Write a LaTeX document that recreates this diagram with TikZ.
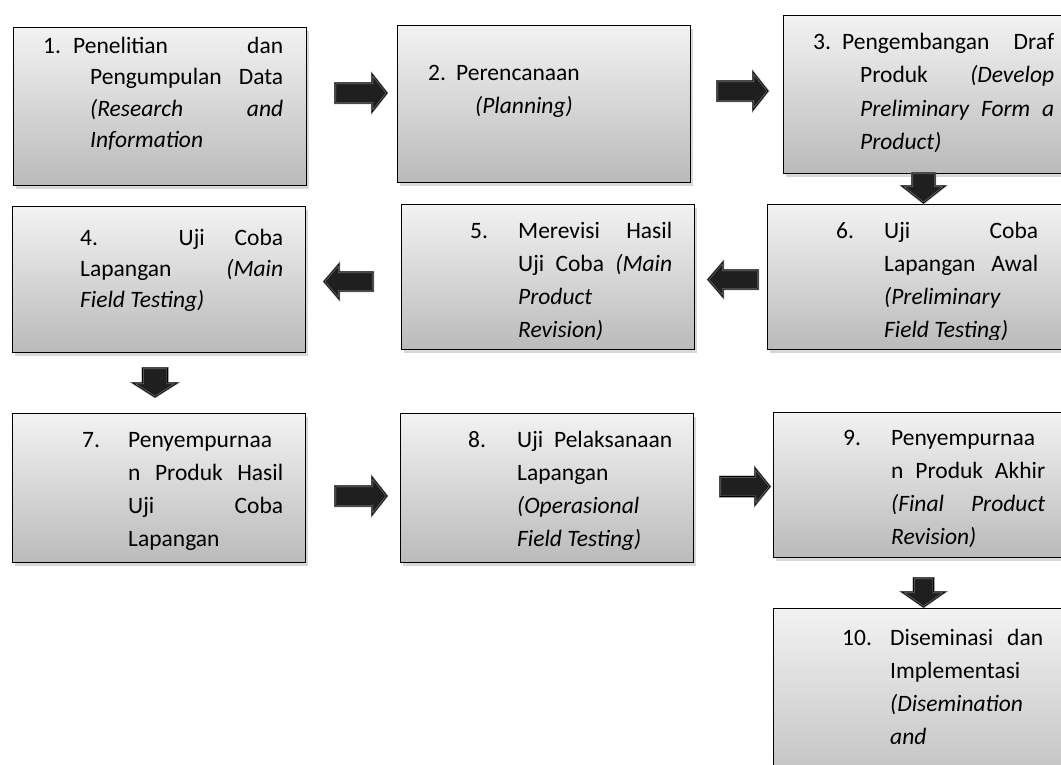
\documentclass[tikz,border=0pt]{standalone}
\usepackage{fontspec}
\setmainfont{Carlito}
\usetikzlibrary{shadows,calc}
\newcommand\nm[2]{\makebox[#1pt][l]{#2}}
\newcommand\jl[2]{\makebox[#1pt][s]{#2}}
\newcommand\ind[1]{\hspace*{#1pt}}
\newcommand\btext[2]{\parbox[t]{260pt}{\baselineskip=#1pt\relax #2}}
\newcommand\barr[7]{\begin{scope}[shift={#2},rotate=#3]
\path[arrowfill, preaction={fill=black!88}, postaction={draw=black, line width=0.6pt}]
  ({-(#4)/2},{-(#6)/2}) -- ({(#4)/2-(#7)},{-(#6)/2}) -- ({(#4)/2-(#7)},{-(#5)/2}) -- ({(#4)/2},0) -- ({(#4)/2-(#7)},{(#5)/2}) -- ({(#4)/2-(#7)},{(#6)/2}) -- ({-(#4)/2},{(#6)/2}) -- cycle;
\coordinate (#1) at (0,0);
\end{scope}}
\begin{document}
\begin{tikzpicture}[x=1pt,y=-1pt,
  box/.style={draw=black, line width=1.4pt, top color=black!5, bottom color=black!27,
    anchor=north west, inner sep=0pt,
    drop shadow={shadow xshift=2.5pt, shadow yshift=-3pt, opacity=0.3}},
  txt/.style={anchor=base west, inner sep=0pt, font=\fontsize{23.5}{32}\selectfont},
  arrowfill/.style={draw=black!55, line width=2pt, line join=miter}]
\useasboundingbox (0,0) rectangle (1061,764);
\clip (0,0) rectangle (1061,764);
\fill[white] (0,0) rectangle (1061,764);

% boxes
\node[box, minimum width=293, minimum height=158] (b1) at (13,27) {};
\node[box, minimum width=293, minimum height=157] (b2) at (397,25) {};
\node[box, minimum width=300, minimum height=158] (b3) at (783,15) {};
\node[box, minimum width=293, minimum height=146] (b4) at (12,206) {};
\node[box, minimum width=293, minimum height=145] (b5) at (401,204) {};
\node[box, minimum width=300, minimum height=145] (b6) at (767,204) {};
\node[box, minimum width=293, minimum height=149] (b7) at (12,413) {};
\node[box, minimum width=293, minimum height=149] (b8) at (400,413) {};
\node[box, minimum width=300, minimum height=145] (b9) at (773,412) {};
\node[box, minimum width=300, minimum height=200] (b10) at (773,608) {};

% arrows
\barr{a12}{(361,93)}{0}{52}{38}{20}{15}
\barr{a23}{(742.5,91)}{0}{51}{38}{20}{15}
\barr{a36}{(923.5,188)}{-90}{30}{43}{23}{17}
\barr{a65}{(733,279.5)}{180}{50}{35}{19}{15}
\barr{a54}{(348.5,281.5)}{180}{49}{35}{19}{15}
\barr{a47}{(155,382.5)}{-90}{29}{44}{25}{14}
\barr{a78}{(361,496)}{0}{52}{38}{20}{15}
\barr{a89}{(745,486.5)}{0}{50}{37}{20}{15}
\barr{a910}{(923.5,592.5)}{-90}{29}{43}{20}{15}

% texts
\node[txt] (t1) at (43,53) {\btext{31.5}{\nm{30}{1.}\jl{210}{Penelitian dan}\\
\ind{47}\jl{193}{Pengumpulan Data}\\
\ind{47}\jl{193}{\itshape (Research and}\\
\ind{47}\textit{Information}}};

\node[txt] (t2) at (428,80) {\btext{33}{\nm{28}{2.}Perencanaan\\
\ind{47}\textit{(Planning)}}};

\node[txt] (t3) at (813,49) {\btext{33.5}{\nm{29}{3.}\jl{212}{Pengembangan Draf}\\
\ind{47}\jl{194}{Produk {\itshape (Develop}}\\
\ind{47}\jl{194}{\itshape Preliminary Form a}\\
\ind{47}\textit{Product)}}};

\node[txt] (t4) at (80,245) {\btext{31}{\jl{203}{4. Uji Coba}\\
\jl{203}{Lapangan {\itshape (Main}}\\
\textit{Field Testing)}}};

\begin{scope}
\clip (b5.north west) rectangle ($(b5.south east)+(0,-11)$);
\node[txt] (t5) at (470,238) {\btext{33}{\nm{48}{5.}\jl{154}{Merevisi Hasil}\\
\ind{48}\jl{154}{Uji Coba {\itshape (Main}}\\
\ind{48}\textit{Product}\\
\ind{48}\textit{Revision)}}};
\end{scope}

\begin{scope}
\clip (b6.north west) rectangle ($(b6.south east)+(0,-11)$);
\node[txt] (t6) at (836,238) {\btext{33}{\nm{48}{6.}\jl{154}{Uji Coba}\\
\ind{48}\jl{154}{Lapangan Awal}\\
\ind{48}\textit{(Preliminary}\\
\ind{48}\textit{Field Testing)}}};
\end{scope}

\begin{scope}
\clip (b7.north west) rectangle ($(b7.south east)+(0,-13)$);
\node[txt] (t7) at (82,447) {\btext{33}{\nm{46}{7.}Penyempurnaa\\
\ind{46}\jl{155}{n Produk Hasil}\\
\ind{46}\jl{155}{Uji Coba}\\
\ind{46}Lapangan}};
\end{scope}

\begin{scope}
\clip (b8.north west) rectangle ($(b8.south east)+(0,-13)$);
\node[txt] (t8) at (468,447) {\btext{33}{\nm{49}{8.}\jl{155}{Uji Pelaksanaan}\\
\ind{49}Lapangan\\
\ind{49}\textit{(Operasional}\\
\ind{49}\textit{Field Testing)}}};
\end{scope}

\begin{scope}
\clip (b9.north west) rectangle ($(b9.south east)+(0,-10)$);
\node[txt] (t9) at (843,445) {\btext{33}{\nm{48}{9.}Penyempurnaa\\
\ind{48}\jl{154}{n Produk Akhir}\\
\ind{48}\jl{154}{\itshape (Final Product}\\
\ind{48}\textit{Revision)}}};
\end{scope}

\node[txt] (t10) at (842,645) {\btext{33}{\nm{48}{10.}\jl{153}{Diseminasi dan}\\
\ind{48}Implementasi\\
\ind{48}\textit{(Disemination}\\
\ind{48}\textit{and}}};
\end{tikzpicture}
\end{document}
